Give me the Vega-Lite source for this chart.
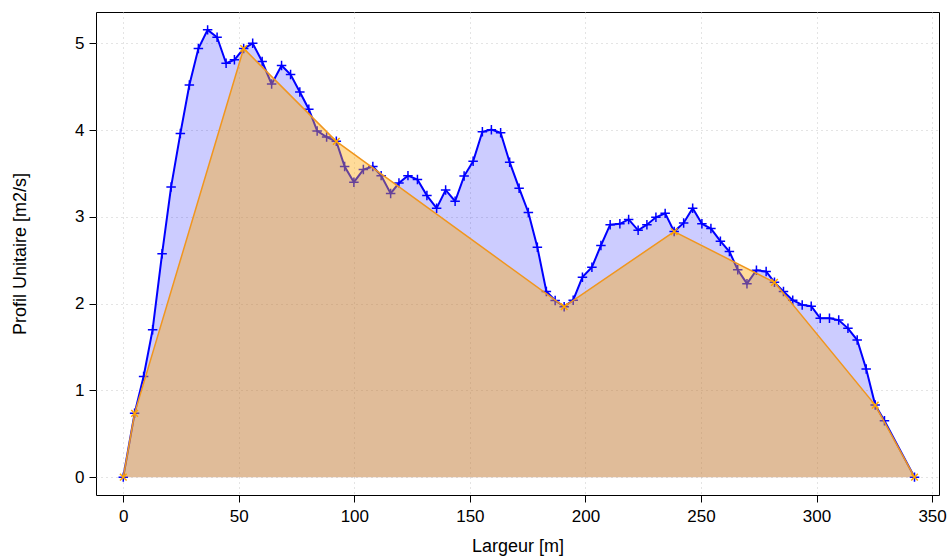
{
  "$schema": "https://vega.github.io/schema/vega-lite/v6.json",
  "width": 843,
  "height": 483,
  "autosize": {"type": "none"},
  "padding": {"left": 96, "top": 12, "right": 9, "bottom": 64},
  "background": "white",
  "config": {
    "font": "Liberation Sans",
    "view": {"stroke": "black", "strokeWidth": 1},
    "axis": {
      "domain": false,
      "tickColor": "black",
      "tickSize": 7,
      "tickWidth": 1,
      "labelFontSize": 17,
      "labelColor": "black",
      "titleFontSize": 18,
      "titleFontWeight": "normal",
      "titleColor": "black",
      "grid": true,
      "gridColor": "#C8C8C8",
      "gridDash": [1, 4],
      "gridWidth": 1,
      "zindex": 1
    }
  },
  "datasets": {
    "mesure": [
      {"x": 0, "y": 0}, {"x": 4.9, "y": 0.735}, {"x": 8.8, "y": 1.16}, {"x": 12.7, "y": 1.7},
      {"x": 16.8, "y": 2.575}, {"x": 20.7, "y": 3.345}, {"x": 24.7, "y": 3.96}, {"x": 28.6, "y": 4.52},
      {"x": 32.5, "y": 4.94}, {"x": 36.5, "y": 5.155}, {"x": 40.6, "y": 5.07}, {"x": 44.5, "y": 4.77},
      {"x": 48.1, "y": 4.81}, {"x": 52.1, "y": 4.94}, {"x": 56.0, "y": 5.0}, {"x": 60.1, "y": 4.79},
      {"x": 64.2, "y": 4.53}, {"x": 68.5, "y": 4.745}, {"x": 72.4, "y": 4.64}, {"x": 76.4, "y": 4.44},
      {"x": 80.3, "y": 4.24}, {"x": 83.9, "y": 3.99}, {"x": 88.0, "y": 3.92}, {"x": 92.2, "y": 3.87},
      {"x": 95.8, "y": 3.58}, {"x": 99.8, "y": 3.4}, {"x": 103.9, "y": 3.545}, {"x": 108.0, "y": 3.58},
      {"x": 111.6, "y": 3.475}, {"x": 115.7, "y": 3.27}, {"x": 119.3, "y": 3.39}, {"x": 123.2, "y": 3.475},
      {"x": 127.3, "y": 3.43}, {"x": 131.4, "y": 3.245}, {"x": 135.6, "y": 3.1}, {"x": 139.5, "y": 3.31},
      {"x": 143.6, "y": 3.18}, {"x": 147.5, "y": 3.47}, {"x": 151.4, "y": 3.64}, {"x": 155.4, "y": 3.98},
      {"x": 159.3, "y": 4.005}, {"x": 163.3, "y": 3.97}, {"x": 167.2, "y": 3.63}, {"x": 171.3, "y": 3.33},
      {"x": 175.3, "y": 3.05}, {"x": 179.2, "y": 2.65}, {"x": 183.1, "y": 2.14}, {"x": 186.9, "y": 2.035},
      {"x": 190.8, "y": 1.965}, {"x": 194.7, "y": 2.04}, {"x": 198.7, "y": 2.305}, {"x": 202.8, "y": 2.42},
      {"x": 206.7, "y": 2.67}, {"x": 210.7, "y": 2.91}, {"x": 214.9, "y": 2.92}, {"x": 218.7, "y": 2.97},
      {"x": 222.8, "y": 2.845}, {"x": 226.6, "y": 2.91}, {"x": 230.5, "y": 2.995}, {"x": 234.5, "y": 3.04},
      {"x": 238.4, "y": 2.83}, {"x": 242.5, "y": 2.93}, {"x": 246.4, "y": 3.1}, {"x": 250.4, "y": 2.92},
      {"x": 254.3, "y": 2.865}, {"x": 258.4, "y": 2.72}, {"x": 262.3, "y": 2.6}, {"x": 265.9, "y": 2.39},
      {"x": 269.9, "y": 2.23}, {"x": 274.0, "y": 2.385}, {"x": 278.2, "y": 2.37}, {"x": 281.8, "y": 2.245},
      {"x": 285.7, "y": 2.14}, {"x": 289.7, "y": 2.04}, {"x": 293.8, "y": 1.985}, {"x": 297.7, "y": 1.97},
      {"x": 301.6, "y": 1.83}, {"x": 305.6, "y": 1.83}, {"x": 309.6, "y": 1.81}, {"x": 313.6, "y": 1.715},
      {"x": 317.6, "y": 1.58}, {"x": 321.5, "y": 1.247}, {"x": 325.4, "y": 0.83}, {"x": 329.4, "y": 0.65},
      {"x": 342.4, "y": 0}
    ],
    "enveloppe": [
      {"x": 0, "y": 0}, {"x": 4.9, "y": 0.735}, {"x": 52.1, "y": 4.94}, {"x": 92.2, "y": 3.87},
      {"x": 190.8, "y": 1.965}, {"x": 238.4, "y": 2.83}, {"x": 281.8, "y": 2.245}, {"x": 325.4, "y": 0.83},
      {"x": 342.4, "y": 0}
    ]
  },
  "encoding": {
    "x": {
      "field": "x", "type": "quantitative",
      "scale": {"domain": [-11.8, 353.0], "nice": false, "zero": false},
      "axis": {"values": [0, 50, 100, 150, 200, 250, 300, 350], "title": "Largeur [m]", "labelPadding": 6, "titlePadding": 13}
    },
    "y": {
      "field": "y", "type": "quantitative",
      "scale": {"domain": [-0.206, 5.361], "nice": false, "zero": false},
      "axis": {"values": [0, 1, 2, 3, 4, 5], "title": "Profil Unitaire [m2/s]", "labelPadding": 5, "titlePadding": 45}
    }
  },
  "layer": [
    {
      "data": {"name": "mesure"},
      "mark": {"type": "area", "color": "blue", "opacity": 0.2}
    },
    {
      "data": {"name": "mesure"},
      "mark": {"type": "line", "color": "blue", "strokeWidth": 2}
    },
    {
      "data": {"name": "mesure"},
      "mark": {"type": "point", "shape": "M-1,0H1M0,-1V1", "filled": false, "stroke": "blue", "strokeWidth": 1.5, "size": 90, "opacity": 1}
    },
    {
      "data": {"name": "enveloppe"},
      "mark": {"type": "area", "color": "orange", "opacity": 0.4}
    },
    {
      "data": {"name": "enveloppe"},
      "mark": {"type": "line", "color": "#F0961E", "strokeWidth": 1.5}
    },
    {
      "data": {"name": "enveloppe"},
      "mark": {"type": "point", "shape": "M-0.7,-0.7L0.7,0.7M-0.7,0.7L0.7,-0.7", "filled": false, "stroke": "orange", "strokeWidth": 1.5, "size": 90, "opacity": 1}
    }
  ]
}
